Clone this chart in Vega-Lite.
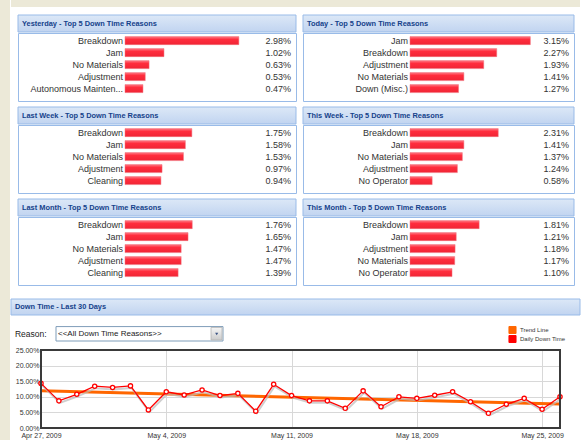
{
  "$schema": "https://vega.github.io/schema/vega-lite/v6.json",
  "padding": 0,
  "background": "white",
  "config": {"font": "Liberation Sans", "view": {"stroke": null}, "axis": {"labelOverlap": false}},
  "datasets": {
    "bars": [
      {"panel": "Yesterday", "reason": "Breakdown", "value": 0.0298},
      {"panel": "Yesterday", "reason": "Jam", "value": 0.0102},
      {"panel": "Yesterday", "reason": "No Materials", "value": 0.0063},
      {"panel": "Yesterday", "reason": "Adjustment", "value": 0.0053},
      {"panel": "Yesterday", "reason": "Autonomous Mainten...", "value": 0.0047},
      {"panel": "Today", "reason": "Jam", "value": 0.0315},
      {"panel": "Today", "reason": "Breakdown", "value": 0.0227},
      {"panel": "Today", "reason": "Adjustment", "value": 0.0193},
      {"panel": "Today", "reason": "No Materials", "value": 0.0141},
      {"panel": "Today", "reason": "Down (Misc.)", "value": 0.0127},
      {"panel": "Last Week", "reason": "Breakdown", "value": 0.0175},
      {"panel": "Last Week", "reason": "Jam", "value": 0.0158},
      {"panel": "Last Week", "reason": "No Materials", "value": 0.0153},
      {"panel": "Last Week", "reason": "Adjustment", "value": 0.0097},
      {"panel": "Last Week", "reason": "Cleaning", "value": 0.0094},
      {"panel": "This Week", "reason": "Breakdown", "value": 0.0231},
      {"panel": "This Week", "reason": "Jam", "value": 0.0141},
      {"panel": "This Week", "reason": "No Materials", "value": 0.0137},
      {"panel": "This Week", "reason": "Adjustment", "value": 0.0124},
      {"panel": "This Week", "reason": "No Operator", "value": 0.0058},
      {"panel": "Last Month", "reason": "Breakdown", "value": 0.0176},
      {"panel": "Last Month", "reason": "Jam", "value": 0.0165},
      {"panel": "Last Month", "reason": "No Materials", "value": 0.0147},
      {"panel": "Last Month", "reason": "Adjustment", "value": 0.0147},
      {"panel": "Last Month", "reason": "Cleaning", "value": 0.0139},
      {"panel": "This Month", "reason": "Breakdown", "value": 0.0181},
      {"panel": "This Month", "reason": "Jam", "value": 0.0121},
      {"panel": "This Month", "reason": "Adjustment", "value": 0.0118},
      {"panel": "This Month", "reason": "No Materials", "value": 0.0117},
      {"panel": "This Month", "reason": "No Operator", "value": 0.0110}
    ],
    "daily": [
      {"date": "2009-04-27", "value": 0.143, "series": "Daily Down Time"},
      {"date": "2009-04-28", "value": 0.087, "series": "Daily Down Time"},
      {"date": "2009-04-29", "value": 0.108, "series": "Daily Down Time"},
      {"date": "2009-04-30", "value": 0.134, "series": "Daily Down Time"},
      {"date": "2009-05-01", "value": 0.130, "series": "Daily Down Time"},
      {"date": "2009-05-02", "value": 0.135, "series": "Daily Down Time"},
      {"date": "2009-05-03", "value": 0.058, "series": "Daily Down Time"},
      {"date": "2009-05-04", "value": 0.116, "series": "Daily Down Time"},
      {"date": "2009-05-05", "value": 0.106, "series": "Daily Down Time"},
      {"date": "2009-05-06", "value": 0.122, "series": "Daily Down Time"},
      {"date": "2009-05-07", "value": 0.104, "series": "Daily Down Time"},
      {"date": "2009-05-08", "value": 0.111, "series": "Daily Down Time"},
      {"date": "2009-05-09", "value": 0.054, "series": "Daily Down Time"},
      {"date": "2009-05-10", "value": 0.140, "series": "Daily Down Time"},
      {"date": "2009-05-11", "value": 0.104, "series": "Daily Down Time"},
      {"date": "2009-05-12", "value": 0.087, "series": "Daily Down Time"},
      {"date": "2009-05-13", "value": 0.087, "series": "Daily Down Time"},
      {"date": "2009-05-14", "value": 0.063, "series": "Daily Down Time"},
      {"date": "2009-05-15", "value": 0.119, "series": "Daily Down Time"},
      {"date": "2009-05-16", "value": 0.068, "series": "Daily Down Time"},
      {"date": "2009-05-17", "value": 0.100, "series": "Daily Down Time"},
      {"date": "2009-05-18", "value": 0.095, "series": "Daily Down Time"},
      {"date": "2009-05-19", "value": 0.105, "series": "Daily Down Time"},
      {"date": "2009-05-20", "value": 0.116, "series": "Daily Down Time"},
      {"date": "2009-05-21", "value": 0.084, "series": "Daily Down Time"},
      {"date": "2009-05-22", "value": 0.047, "series": "Daily Down Time"},
      {"date": "2009-05-23", "value": 0.076, "series": "Daily Down Time"},
      {"date": "2009-05-24", "value": 0.095, "series": "Daily Down Time"},
      {"date": "2009-05-25", "value": 0.060, "series": "Daily Down Time"},
      {"date": "2009-05-26", "value": 0.100, "series": "Daily Down Time"}
    ],
    "trend": [
      {"date": "2009-04-27", "value": 0.119, "series": "Trend Line"},
      {"date": "2009-05-26", "value": 0.077, "series": "Trend Line"}
    ]
  },
  "hconcat": [
    {"width": 10, "height": 440, "data": {"values": []}, "mark": "rect", "view": {"fill": "#ECE9D8", "stroke": null}},
    {
      "vconcat": [
        {
          "vconcat": [
            {"width": 569, "height": 7, "data": {"values": []}, "mark": "rect", "view": {"fill": "#ECE9D8", "stroke": null}},
            {
              "hconcat": [
                {"width": 1, "height": 1, "data": {"values": []}, "mark": "rect"},
                {
                  "vconcat": [
                    {"vconcat": [
                      {"width": 278, "height": 17, "data": {"values": [{}]},
                       "layer": [
                        {"mark": {"type": "rect", "stroke": "#99BBE8", "strokeWidth": 1, "fill": {"gradient": "linear", "x1": 0, "y1": 0, "x2": 0, "y2": 1, "stops": [{"offset": 0, "color": "#DCE8F7"}, {"offset": 1, "color": "#C1D4F0"}]}}},
                        {"mark": {"type": "text", "text": "Yesterday - Top 5 Down Time Reasons", "align": "left", "baseline": "middle", "dx": 4, "fontWeight": "bold", "fontSize": 7.4, "fill": "#15428B"},
                         "encoding": {"x": {"datum": 0, "type": "quantitative", "scale": {"domain": [0, 1]}, "axis": null}}}
                       ]},
                      {"width": 278, "height": 68, "data": {"name": "bars"}, "view": {"stroke": "#99BBE8", "fill": "white"},
                       "transform": [{"filter": "datum.panel === 'Yesterday'"}],
                       "encoding": {"y": {"field": "reason", "type": "nominal", "sort": null, "axis": null, "scale": {"paddingInner": 0.33, "paddingOuter": 0.5, "align": 0.3}}},
                       "layer": [
                        {"mark": {"type": "bar", "stroke": "#F0707A", "strokeWidth": 0.5, "fill": {"gradient": "linear", "x1": 0, "y1": 0, "x2": 0, "y2": 1, "stops": [{"offset": 0, "color": "#FF7A85"}, {"offset": 0.35, "color": "#FF2D3D"}, {"offset": 1, "color": "#F02535"}]}},
                         "encoding": {"x": {"field": "value", "type": "quantitative", "scale": {"domain": [-0.02801, 0.04476], "nice": false}, "axis": null}, "x2": {"datum": 0}}},
                        {"mark": {"type": "text", "align": "right", "baseline": "middle", "dx": -2, "fontSize": 9, "fill": "#333333"},
                         "encoding": {"x": {"datum": 0, "type": "quantitative"}, "text": {"field": "reason"}}},
                        {"mark": {"type": "text", "align": "right", "baseline": "middle", "dx": -5, "fontSize": 9, "fill": "#333333"},
                         "encoding": {"x": {"datum": 0.04476, "type": "quantitative"}, "text": {"field": "value", "format": ".2%"}}}
                       ]}
                    ], "spacing": -2},
                    {"vconcat": [
                      {"width": 278, "height": 17, "data": {"values": [{}]},
                       "layer": [
                        {"mark": {"type": "rect", "stroke": "#99BBE8", "strokeWidth": 1, "fill": {"gradient": "linear", "x1": 0, "y1": 0, "x2": 0, "y2": 1, "stops": [{"offset": 0, "color": "#DCE8F7"}, {"offset": 1, "color": "#C1D4F0"}]}}},
                        {"mark": {"type": "text", "text": "Last Week - Top 5 Down Time Reasons", "align": "left", "baseline": "middle", "dx": 4, "fontWeight": "bold", "fontSize": 7.4, "fill": "#15428B"},
                         "encoding": {"x": {"datum": 0, "type": "quantitative", "scale": {"domain": [0, 1]}, "axis": null}}}
                       ]},
                      {"width": 278, "height": 68, "data": {"name": "bars"}, "view": {"stroke": "#99BBE8", "fill": "white"},
                       "transform": [{"filter": "datum.panel === 'Last Week'"}],
                       "encoding": {"y": {"field": "reason", "type": "nominal", "sort": null, "axis": null, "scale": {"paddingInner": 0.33, "paddingOuter": 0.5, "align": 0.3}}},
                       "layer": [
                        {"mark": {"type": "bar", "stroke": "#F0707A", "strokeWidth": 0.5, "fill": {"gradient": "linear", "x1": 0, "y1": 0, "x2": 0, "y2": 1, "stops": [{"offset": 0, "color": "#FF7A85"}, {"offset": 0.35, "color": "#FF2D3D"}, {"offset": 1, "color": "#F02535"}]}},
                         "encoding": {"x": {"field": "value", "type": "quantitative", "scale": {"domain": [-0.02801, 0.04476], "nice": false}, "axis": null}, "x2": {"datum": 0}}},
                        {"mark": {"type": "text", "align": "right", "baseline": "middle", "dx": -2, "fontSize": 9, "fill": "#333333"},
                         "encoding": {"x": {"datum": 0, "type": "quantitative"}, "text": {"field": "reason"}}},
                        {"mark": {"type": "text", "align": "right", "baseline": "middle", "dx": -5, "fontSize": 9, "fill": "#333333"},
                         "encoding": {"x": {"datum": 0.04476, "type": "quantitative"}, "text": {"field": "value", "format": ".2%"}}}
                       ]}
                    ], "spacing": -2},
                    {"vconcat": [
                      {"width": 278, "height": 17, "data": {"values": [{}]},
                       "layer": [
                        {"mark": {"type": "rect", "stroke": "#99BBE8", "strokeWidth": 1, "fill": {"gradient": "linear", "x1": 0, "y1": 0, "x2": 0, "y2": 1, "stops": [{"offset": 0, "color": "#DCE8F7"}, {"offset": 1, "color": "#C1D4F0"}]}}},
                        {"mark": {"type": "text", "text": "Last Month - Top 5 Down Time Reasons", "align": "left", "baseline": "middle", "dx": 4, "fontWeight": "bold", "fontSize": 7.4, "fill": "#15428B"},
                         "encoding": {"x": {"datum": 0, "type": "quantitative", "scale": {"domain": [0, 1]}, "axis": null}}}
                       ]},
                      {"width": 278, "height": 68, "data": {"name": "bars"}, "view": {"stroke": "#99BBE8", "fill": "white"},
                       "transform": [{"filter": "datum.panel === 'Last Month'"}],
                       "encoding": {"y": {"field": "reason", "type": "nominal", "sort": null, "axis": null, "scale": {"paddingInner": 0.33, "paddingOuter": 0.5, "align": 0.3}}},
                       "layer": [
                        {"mark": {"type": "bar", "stroke": "#F0707A", "strokeWidth": 0.5, "fill": {"gradient": "linear", "x1": 0, "y1": 0, "x2": 0, "y2": 1, "stops": [{"offset": 0, "color": "#FF7A85"}, {"offset": 0.35, "color": "#FF2D3D"}, {"offset": 1, "color": "#F02535"}]}},
                         "encoding": {"x": {"field": "value", "type": "quantitative", "scale": {"domain": [-0.02801, 0.04476], "nice": false}, "axis": null}, "x2": {"datum": 0}}},
                        {"mark": {"type": "text", "align": "right", "baseline": "middle", "dx": -2, "fontSize": 9, "fill": "#333333"},
                         "encoding": {"x": {"datum": 0, "type": "quantitative"}, "text": {"field": "reason"}}},
                        {"mark": {"type": "text", "align": "right", "baseline": "middle", "dx": -5, "fontSize": 9, "fill": "#333333"},
                         "encoding": {"x": {"datum": 0.04476, "type": "quantitative"}, "text": {"field": "value", "format": ".2%"}}}
                       ]}
                    ], "spacing": -2}
                  ],
                  "spacing": 4
                },
                {
                  "vconcat": [
                    {"vconcat": [
                      {"width": 271, "height": 17, "data": {"values": [{}]},
                       "layer": [
                        {"mark": {"type": "rect", "stroke": "#99BBE8", "strokeWidth": 1, "fill": {"gradient": "linear", "x1": 0, "y1": 0, "x2": 0, "y2": 1, "stops": [{"offset": 0, "color": "#DCE8F7"}, {"offset": 1, "color": "#C1D4F0"}]}}},
                        {"mark": {"type": "text", "text": "Today - Top 5 Down Time Reasons", "align": "left", "baseline": "middle", "dx": 4, "fontWeight": "bold", "fontSize": 7.4, "fill": "#15428B"},
                         "encoding": {"x": {"datum": 0, "type": "quantitative", "scale": {"domain": [0, 1]}, "axis": null}}}
                       ]},
                      {"width": 271, "height": 68, "data": {"name": "bars"}, "view": {"stroke": "#99BBE8", "fill": "white"},
                       "transform": [{"filter": "datum.panel === 'Today'"}],
                       "encoding": {"y": {"field": "reason", "type": "nominal", "sort": null, "axis": null, "scale": {"paddingInner": 0.33, "paddingOuter": 0.5, "align": 0.3}}},
                       "layer": [
                        {"mark": {"type": "bar", "stroke": "#F0707A", "strokeWidth": 0.5, "fill": {"gradient": "linear", "x1": 0, "y1": 0, "x2": 0, "y2": 1, "stops": [{"offset": 0, "color": "#FF7A85"}, {"offset": 0.35, "color": "#FF2D3D"}, {"offset": 1, "color": "#F02535"}]}},
                         "encoding": {"x": {"field": "value", "type": "quantitative", "scale": {"domain": [-0.02801, 0.04293], "nice": false}, "axis": null}, "x2": {"datum": 0}}},
                        {"mark": {"type": "text", "align": "right", "baseline": "middle", "dx": -2, "fontSize": 9, "fill": "#333333"},
                         "encoding": {"x": {"datum": 0, "type": "quantitative"}, "text": {"field": "reason"}}},
                        {"mark": {"type": "text", "align": "right", "baseline": "middle", "dx": -5, "fontSize": 9, "fill": "#333333"},
                         "encoding": {"x": {"datum": 0.04293, "type": "quantitative"}, "text": {"field": "value", "format": ".2%"}}}
                       ]}
                    ], "spacing": -2},
                    {"vconcat": [
                      {"width": 271, "height": 17, "data": {"values": [{}]},
                       "layer": [
                        {"mark": {"type": "rect", "stroke": "#99BBE8", "strokeWidth": 1, "fill": {"gradient": "linear", "x1": 0, "y1": 0, "x2": 0, "y2": 1, "stops": [{"offset": 0, "color": "#DCE8F7"}, {"offset": 1, "color": "#C1D4F0"}]}}},
                        {"mark": {"type": "text", "text": "This Week - Top 5 Down Time Reasons", "align": "left", "baseline": "middle", "dx": 4, "fontWeight": "bold", "fontSize": 7.4, "fill": "#15428B"},
                         "encoding": {"x": {"datum": 0, "type": "quantitative", "scale": {"domain": [0, 1]}, "axis": null}}}
                       ]},
                      {"width": 271, "height": 68, "data": {"name": "bars"}, "view": {"stroke": "#99BBE8", "fill": "white"},
                       "transform": [{"filter": "datum.panel === 'This Week'"}],
                       "encoding": {"y": {"field": "reason", "type": "nominal", "sort": null, "axis": null, "scale": {"paddingInner": 0.33, "paddingOuter": 0.5, "align": 0.3}}},
                       "layer": [
                        {"mark": {"type": "bar", "stroke": "#F0707A", "strokeWidth": 0.5, "fill": {"gradient": "linear", "x1": 0, "y1": 0, "x2": 0, "y2": 1, "stops": [{"offset": 0, "color": "#FF7A85"}, {"offset": 0.35, "color": "#FF2D3D"}, {"offset": 1, "color": "#F02535"}]}},
                         "encoding": {"x": {"field": "value", "type": "quantitative", "scale": {"domain": [-0.02801, 0.04293], "nice": false}, "axis": null}, "x2": {"datum": 0}}},
                        {"mark": {"type": "text", "align": "right", "baseline": "middle", "dx": -2, "fontSize": 9, "fill": "#333333"},
                         "encoding": {"x": {"datum": 0, "type": "quantitative"}, "text": {"field": "reason"}}},
                        {"mark": {"type": "text", "align": "right", "baseline": "middle", "dx": -5, "fontSize": 9, "fill": "#333333"},
                         "encoding": {"x": {"datum": 0.04293, "type": "quantitative"}, "text": {"field": "value", "format": ".2%"}}}
                       ]}
                    ], "spacing": -2},
                    {"vconcat": [
                      {"width": 271, "height": 17, "data": {"values": [{}]},
                       "layer": [
                        {"mark": {"type": "rect", "stroke": "#99BBE8", "strokeWidth": 1, "fill": {"gradient": "linear", "x1": 0, "y1": 0, "x2": 0, "y2": 1, "stops": [{"offset": 0, "color": "#DCE8F7"}, {"offset": 1, "color": "#C1D4F0"}]}}},
                        {"mark": {"type": "text", "text": "This Month - Top 5 Down Time Reasons", "align": "left", "baseline": "middle", "dx": 4, "fontWeight": "bold", "fontSize": 7.4, "fill": "#15428B"},
                         "encoding": {"x": {"datum": 0, "type": "quantitative", "scale": {"domain": [0, 1]}, "axis": null}}}
                       ]},
                      {"width": 271, "height": 68, "data": {"name": "bars"}, "view": {"stroke": "#99BBE8", "fill": "white"},
                       "transform": [{"filter": "datum.panel === 'This Month'"}],
                       "encoding": {"y": {"field": "reason", "type": "nominal", "sort": null, "axis": null, "scale": {"paddingInner": 0.33, "paddingOuter": 0.5, "align": 0.3}}},
                       "layer": [
                        {"mark": {"type": "bar", "stroke": "#F0707A", "strokeWidth": 0.5, "fill": {"gradient": "linear", "x1": 0, "y1": 0, "x2": 0, "y2": 1, "stops": [{"offset": 0, "color": "#FF7A85"}, {"offset": 0.35, "color": "#FF2D3D"}, {"offset": 1, "color": "#F02535"}]}},
                         "encoding": {"x": {"field": "value", "type": "quantitative", "scale": {"domain": [-0.02801, 0.04293], "nice": false}, "axis": null}, "x2": {"datum": 0}}},
                        {"mark": {"type": "text", "align": "right", "baseline": "middle", "dx": -2, "fontSize": 9, "fill": "#333333"},
                         "encoding": {"x": {"datum": 0, "type": "quantitative"}, "text": {"field": "reason"}}},
                        {"mark": {"type": "text", "align": "right", "baseline": "middle", "dx": -5, "fontSize": 9, "fill": "#333333"},
                         "encoding": {"x": {"datum": 0.04293, "type": "quantitative"}, "text": {"field": "value", "format": ".2%"}}}
                       ]}
                    ], "spacing": -2}
                  ],
                  "spacing": 4
                }
              ],
              "spacing": 5
            }
          ],
          "spacing": 7
        },
        {
          "vconcat": [
            {"width": 569, "height": 16, "data": {"values": [{}]},
             "layer": [
              {"mark": {"type": "rect", "stroke": "#99BBE8", "strokeWidth": 1, "fill": {"gradient": "linear", "x1": 0, "y1": 0, "x2": 0, "y2": 1, "stops": [{"offset": 0, "color": "#DCE8F7"}, {"offset": 1, "color": "#C1D4F0"}]}}},
              {"mark": {"type": "text", "text": "Down Time - Last 30 Days", "align": "left", "baseline": "middle", "dx": 4, "fontWeight": "bold", "fontSize": 7.4, "fill": "#15428B"},
               "encoding": {"x": {"datum": 0, "type": "quantitative", "scale": {"domain": [0, 1]}, "axis": null}}}
             ]},
            {"width": 569, "height": 35, "data": {"values": [{}]},
             "layer": [
              {"mark": {"type": "rect", "fill": "white", "stroke": "#7F9DB9", "strokeWidth": 1},
               "encoding": {"x": {"datum": 0.0791, "type": "quantitative", "scale": {"domain": [0, 1]}, "axis": null}, "x2": {"datum": 0.3726},
                            "y": {"datum": 0.669, "type": "quantitative", "scale": {"domain": [0, 1]}, "axis": null}, "y2": {"datum": 0.257}}},
              {"mark": {"type": "rect", "stroke": "#B5B5B5", "strokeWidth": 0.8, "fill": {"gradient": "linear", "x1": 0, "y1": 0, "x2": 0, "y2": 1, "stops": [{"offset": 0, "color": "#F6F6F6"}, {"offset": 1, "color": "#CCCCCC"}]}},
               "encoding": {"x": {"datum": 0.3515, "type": "quantitative"}, "x2": {"datum": 0.3708},
                            "y": {"datum": 0.643, "type": "quantitative"}, "y2": {"datum": 0.286}}},
              {"mark": {"type": "point", "shape": "triangle-down", "filled": true, "fill": "#3D5585", "size": 10, "opacity": 1},
               "encoding": {"x": {"datum": 0.3615, "type": "quantitative"}, "y": {"datum": 0.457, "type": "quantitative"}}},
              {"mark": {"type": "text", "text": "Reason:", "align": "left", "baseline": "middle", "fontSize": 8.5, "fill": "#222222"},
               "encoding": {"x": {"datum": 0.007, "type": "quantitative"}, "y": {"datum": 0.457, "type": "quantitative"}}},
              {"mark": {"type": "text", "text": "<<All Down Time Reasons>>", "align": "left", "baseline": "middle", "fontSize": 8, "fill": "#222222"},
               "encoding": {"x": {"datum": 0.0826, "type": "quantitative"}, "y": {"datum": 0.457, "type": "quantitative"}}}
             ]},
            {
              "hconcat": [
                {"width": 30, "height": 78, "data": {"values": []}, "mark": "rect"},
                {
                  "width": 519, "height": 78,
                  "view": {"stroke": null, "fill": "white"},
                  "layer": [
                    {"data": {"name": "trend"},
                     "mark": {"type": "line", "strokeWidth": 3},
                     "encoding": {
                       "x": {"field": "date", "type": "temporal",
                             "scale": {"type": "utc", "nice": false, "domain": [{"year": 2009, "month": "Apr", "date": 27, "utc": true}, {"year": 2009, "month": "May", "date": 26, "utc": true}]},
                             "axis": {"values": [{"year": 2009, "month": "Apr", "date": 27, "utc": true}, {"year": 2009, "month": "May", "date": 4, "utc": true}, {"year": 2009, "month": "May", "date": 11, "utc": true}, {"year": 2009, "month": "May", "date": 18, "utc": true}, {"year": 2009, "month": "May", "date": 25, "utc": true}],
                                      "tickCount": 20, "format": "%b %-d, %Y", "title": null, "grid": true, "gridColor": "#D8D8D8", "ticks": false, "domain": false, "labelFontSize": 7, "labelColor": "#333333", "labelFlush": false, "labelPadding": 3, "labelOverlap": false}},
                       "y": {"field": "value", "type": "quantitative",
                             "scale": {"domain": [0, 0.25], "nice": false},
                             "axis": {"values": [0, 0.05, 0.1, 0.15, 0.2, 0.25], "tickCount": 10, "format": ".2%", "title": null, "grid": true, "gridColor": "#D8D8D8", "ticks": false, "domain": false, "labelFontSize": 7, "labelColor": "#333333", "labelPadding": 2, "labelOverlap": false, "labelBound": false, "labelFlush": false}},
                       "color": {"field": "series", "type": "nominal",
                                 "scale": {"domain": ["Trend Line", "Daily Down Time"], "range": ["#FF6600", "#FF0000"]},
                                 "legend": {"title": null, "orient": "none", "legendX": 508, "legendY": 326, "symbolType": "square", "symbolSize": 50, "labelFontSize": 6, "labelColor": "#333333", "rowPadding": 1, "clipHeight": 8, "labelOffset": 3,
                                            "encode": {"symbols": {"update": {"fill": {"scale": "color", "field": "value"}, "stroke": {"value": "#9A9A9A"}, "strokeWidth": {"value": 1}, "opacity": {"value": 1}}}}}}}},
                    {"data": {"name": "daily"},
                     "mark": {"type": "line", "stroke": "#BBBBBB", "strokeWidth": 2, "xOffset": 1, "yOffset": 2, "opacity": 0.7},
                     "encoding": {"x": {"field": "date", "type": "temporal"},
                                  "y": {"field": "value", "type": "quantitative"}}},
                    {"data": {"name": "daily"},
                     "mark": {"type": "line", "strokeWidth": 1.3},
                     "encoding": {"x": {"field": "date", "type": "temporal"},
                                  "y": {"field": "value", "type": "quantitative"},
                                  "color": {"field": "series", "type": "nominal"}}},
                    {"data": {"name": "daily"},
                     "mark": {"type": "point", "shape": "circle", "filled": true, "fill": "white", "stroke": "#FF0000", "strokeWidth": 1.3, "size": 18, "opacity": 1},
                     "encoding": {"x": {"field": "date", "type": "temporal"},
                                  "y": {"field": "value", "type": "quantitative"}}},
                    {"data": {"values": [{}]},
                     "mark": {"type": "rect", "fill": "white", "fillOpacity": 0, "stroke": "#3A3A3A", "strokeWidth": 2}}
                  ]
                },
                {"width": 20, "height": 78, "data": {"values": []}, "mark": "rect"}
              ],
              "spacing": 0, "bounds": "flush"
            }
          ],
          "spacing": 0, "bounds": "flush"
        }
      ],
      "spacing": 12
    },
    {"width": 2, "height": 440, "data": {"values": []}, "mark": "rect", "view": {"fill": "#ECE9D8", "stroke": null}}
  ],
  "spacing": 0
}
